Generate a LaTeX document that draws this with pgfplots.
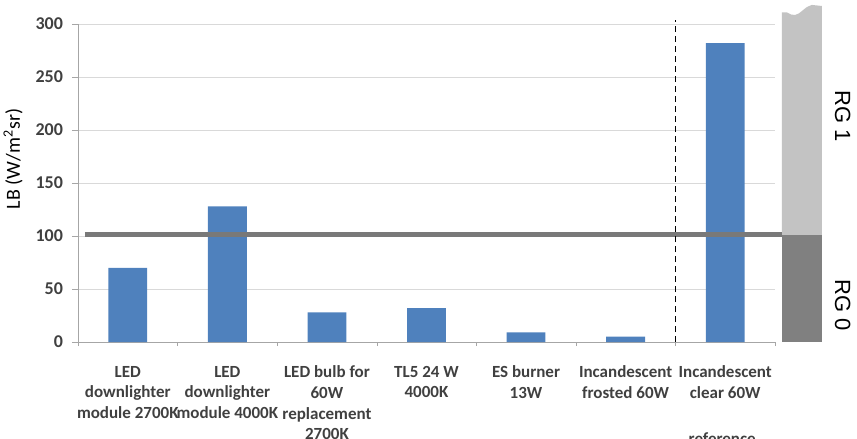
\documentclass[border=0pt]{standalone}
\usepackage{fontspec}
\setmainfont{Carlito}
\newfontfamily\arial{Liberation Sans}
\usepackage{pgfplots}
\pgfplotsset{compat=1.18}
\definecolor{barblue}{HTML}{4F81BD}
\definecolor{rgdark}{HTML}{808080}
\definecolor{rglight}{HTML}{C3C3C3}
\definecolor{txt}{HTML}{404040}
\begin{document}
\begin{tikzpicture}
% page = 857 x 439 px at 0.5pt per px, axis box lower left at (0,0)
\clip (-39pt,-48.5pt) rectangle (389.5pt,171pt);
\begin{axis}[
  scale only axis,
  width=348.5pt, height=159pt,
  xmin=-0.5, xmax=6.5,
  ymin=0, ymax=300,
  clip=false,
  axis x line*=bottom, axis y line*=left,
  axis line style={draw=gray!70},
  ytick={0,50,...,300},
  ymajorgrids, grid style={draw=gray!30},
  xtick={0,...,6},
  minor xtick={-0.5,0.5,...,6.5},
  major x tick style={draw=none},
  minor tick length=2pt,
  major tick length=3pt,
  tick style={draw=gray!70},
  tick align=outside,
  xticklabels={
    {LED\\downlighter\\module 2700K},
    {LED\\downlighter\\module 4000K},
    {LED bulb for\\60W\\replacement\\2700K},
    {TL5 24 W\\4000K},
    {ES burner\\13W},
    {Incandescent\\frosted 60W},
    {Incandescent\\clear 60W}},
  xticklabel style={align=center, font=\fontsize{8.5}{10.3}\selectfont\bfseries, text=txt, yshift=-5.5pt},
  yticklabel style={font=\fontsize{9}{11}\selectfont\bfseries, text=txt, xshift=-1pt},
  /pgf/number format/assume math mode=true,
  ylabel={LB (W/m\textsuperscript{2}sr)},
  ylabel style={font=\fontsize{7}{9}\selectfont\bfseries, text=txt},
  every axis y label/.style={at={(-39pt+6.5pt,91.5pt)}, rotate=90, anchor=center},
]
\addplot[ybar, bar width=0.39, fill=barblue, draw=none] coordinates {
  (0,70) (1,128) (2,28) (3,32) (4,9) (5,5) (6,282)
};
% RG scale bar
\addplot[fill=rgdark, draw=none] coordinates {
  (6.57,0) (6.97,0) (6.97,101) (6.57,101)
} -- cycle;
\addplot[fill=rglight, draw=none] coordinates {
  (6.57,101) (6.97,101) (6.97,317) (6.87,318) (6.82,316) (6.78,313)
  (6.74,310) (6.70,308.5) (6.66,309) (6.62,311) (6.57,311)
} -- cycle;
% threshold line
\addplot[draw=gray!95!black, line width=2.5pt] coordinates {(-0.43,101) (6.57,101)};
% separator
\addplot[draw=black, densely dashed, thin] coordinates {(5.5,0) (5.5,304)};
\node[rotate=-90, font=\arial\fontsize{11}{13}\selectfont, text=black] at (axis cs:7.18,213) {RG 1};
\node[rotate=-90, font=\arial\fontsize{11}{13}\selectfont, text=black] at (axis cs:7.18,35) {RG 0};
\node[anchor=base, font=\fontsize{8.5}{10}\selectfont\bfseries, text=txt] at (axis cs:5.97,-97) {reference};
\end{axis}
\end{tikzpicture}
\end{document}
